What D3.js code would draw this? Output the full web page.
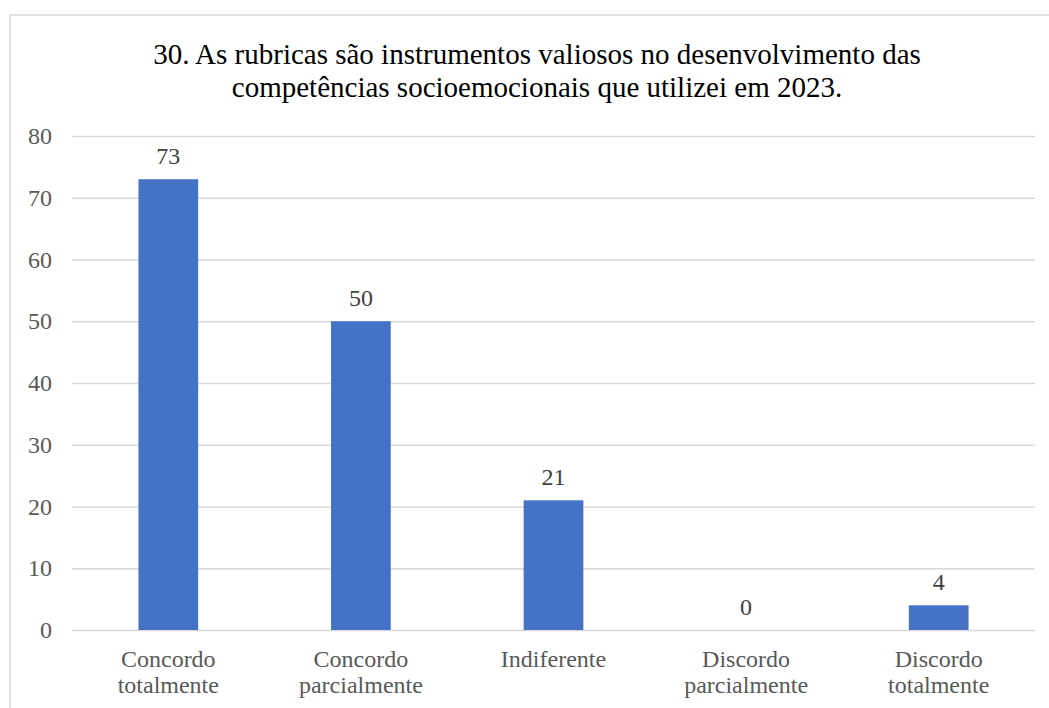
<!DOCTYPE html>
<html>
<head>
<meta charset="utf-8">
<script src="https://cdn.jsdelivr.net/npm/d3@7"></script>
</head>
<body style="margin:0; background:#fff">
<div id="content"></div>
<script>
// data
categories = [["Concordo", "totalmente"], ["Concordo", "parcialmente"], ["Indiferente"], ["Discordo", "parcialmente"], ["Discordo", "totalmente"]]
values = [73, 50, 21, 0, 4]
yTicks = [0, 10, 20, 30, 40, 50, 60, 70, 80]
titleLines = ["30. As rubricas são instrumentos valiosos no desenvolvimento das", "competências socioemocionais que utilizei em 2023."]

serif = "Liberation Serif"
svgwidth = 1049
svgheight = 708
margin = {top: 136, right: 14, bottom: 78, left: 72}
width = svgwidth - margin.left - margin.right
height = svgheight - margin.top - margin.bottom

var svg = d3.select("#content").append("svg")
  .attr("width", svgwidth)
  .attr("height", svgheight)

// chart border (right and bottom edges fall outside the picture)
svg.append("rect")
  .attr("x", 10)
  .attr("y", 15)
  .attr("width", 1060)
  .attr("height", 720)
  .attr("fill", "none")
  .style("stroke", "#d9d9d9")
  .style("stroke-width", 1.5)

// title
titleLines.forEach(function(t, i) {
  svg.append("text")
    .attr("x", 537)
    .attr("y", 64 + i * 33)
    .attr("text-anchor", "middle")
    .attr("fill", "#000")
    .style("font-family", serif)
    .style("font-size", "29px")
    .text(t)
})

var x = d3.scaleBand()
  .domain(d3.range(values.length))
  .range([0, width])
  .paddingInner(0.69)
  .paddingOuter(0.345)

var yScale = d3.scaleLinear()
  .domain([0, 80])
  .range([height, 0])

g = svg.append("g").attr("transform", "translate(" + margin.left + "," + margin.top + ")")

// gridlines + y labels
g.append("g")
  .call(d3.axisLeft(yScale).tickValues(yTicks).tickSize(-width).tickPadding(20))
  .call(function(a) {
    a.select(".domain").remove()
    a.selectAll(".tick line").attr("stroke", "#d9d9d9").attr("stroke-width", 1.5)
    a.selectAll(".tick text")
      .attr("fill", "#595959")
      .style("font-size", "24px")
      .style("font-family", serif)
  })

// bars
g.selectAll(".dataBar")
  .data(values)
  .enter().append("rect")
  .attr("class", "dataBar")
  .attr("x", function(d, i) { return x(i) })
  .attr("y", function(d) { return yScale(d) })
  .attr("width", x.bandwidth())
  .attr("height", function(d) { return height - yScale(d) })
  .attr("fill", "#4472c4")

// value labels
g.selectAll(".valLabel")
  .data(values)
  .enter().append("text")
  .attr("class", "valLabel")
  .attr("x", function(d, i) { return x(i) + x.bandwidth() / 2 })
  .attr("y", function(d) { return yScale(d) - 15 })
  .attr("text-anchor", "middle")
  .attr("fill", "#404040")
  .style("font-family", serif)
  .style("font-size", "24px")
  .text(function(d) { return d })

// category labels
categories.forEach(function(lines, i) {
  var t = g.append("text")
    .attr("x", x(i) + x.bandwidth() / 2)
    .attr("y", height + 37)
    .attr("text-anchor", "middle")
    .attr("fill", "#595959")
    .style("font-family", serif)
    .style("font-size", "24px")
  lines.forEach(function(l, j) {
    t.append("tspan")
      .attr("x", x(i) + x.bandwidth() / 2)
      .attr("dy", j == 0 ? 0 : 26)
      .text(l)
  })
})
</script>
</body>
</html>
